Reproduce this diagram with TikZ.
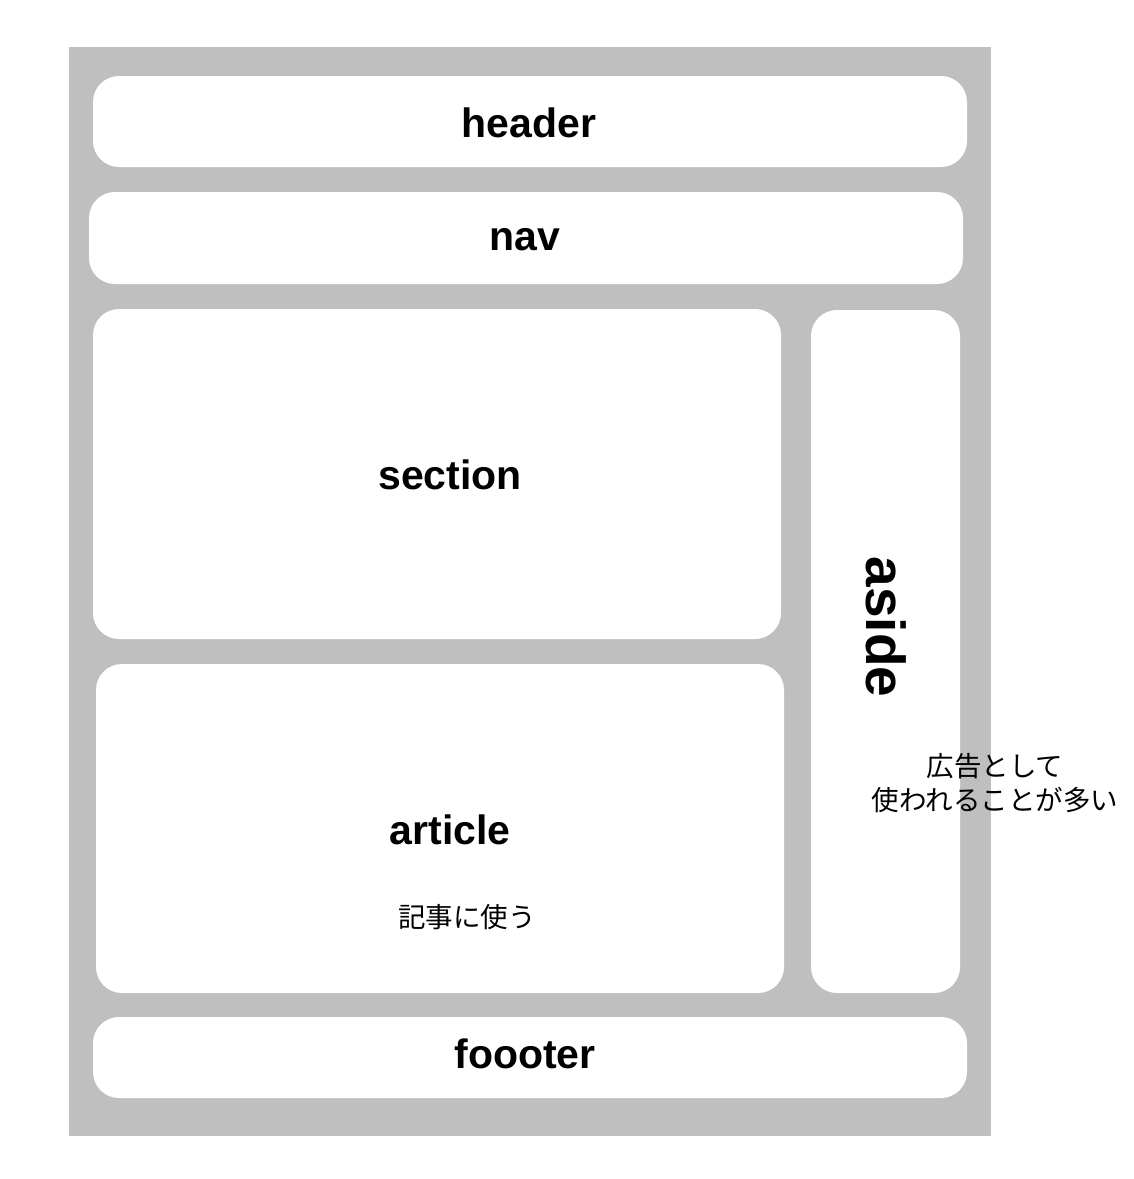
\documentclass[tikz,border=0pt]{standalone}
\usepackage{fontspec}
\setmainfont{Liberation Sans}
\newfontfamily\jpfont{Noto Sans CJK JP}
\usetikzlibrary{positioning}
\definecolor{pagegray}{RGB}{191,191,191}
\tikzset{
  block/.style={fill=white, rounded corners=26pt, inner sep=0pt},
  tag/.style={font=\fontsize{41}{48}\selectfont\bfseries},
  note/.style={font=\jpfont\fontsize{27.5}{34}\selectfont, align=center},
}

\begin{document}
\begin{tikzpicture}[x=1pt,y=-1pt]
\useasboundingbox (0,0) rectangle (1134,1179);
\fill[pagegray] (69,47) rectangle (991,1136);
% page parts
\node[block, minimum width=874pt, minimum height=91pt] (header) at (530,121.5) {};
\node[block, minimum width=874pt, minimum height=92pt] (nav) at (526,238) {};
\node[block, minimum width=688pt, minimum height=330pt] (section) at (437,474) {};
\node[block, minimum width=688pt, minimum height=329pt] (article) at (440,828.5) {};
\node[block, minimum width=149pt, minimum height=683pt] (aside) at (885.5,651.5) {};
\node[block, minimum width=874pt, minimum height=81pt] (footer) at (530,1057.5) {};
% labels
\node[tag] (headerlabel) at (529,123) {header};
\node[tag] (navlabel) at (525,240) {nav};
\node[tag] (sectionlabel) at (450,475) {section};
\node[tag] (articlelabel) at (450,830) {article};
\node[note] (articlenote) at (467,917) {記事に使う};
\node[tag, font=\fontsize{55}{60}\selectfont\bfseries, rotate=-90] (asidelabel) at (886,627) {aside};
\node[note] (asidenote) at (995,783) {広告として\\使われることが多い};
\node[tag] (footerlabel) at (525,1054) {foooter};
\end{tikzpicture}
\end{document}
